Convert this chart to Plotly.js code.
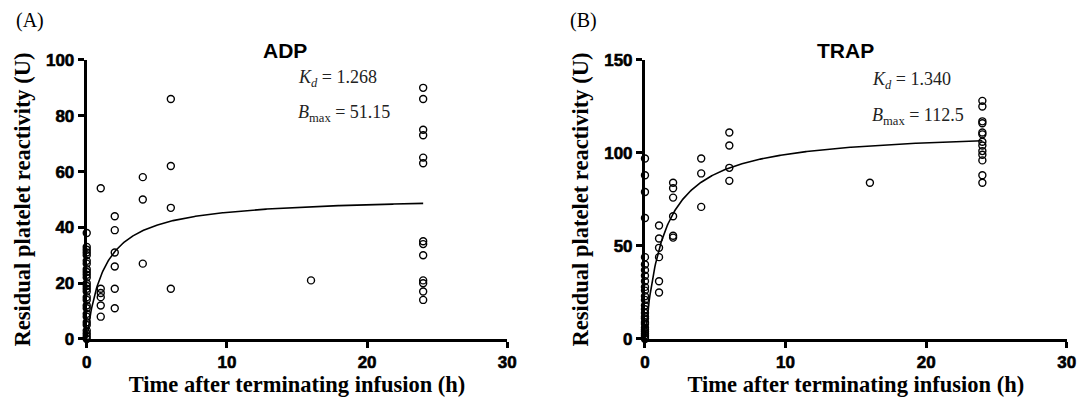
<!DOCTYPE html>
<html>
<head>
<meta charset="utf-8">
<script src="https://cdn.plot.ly/plotly-3.0.1.min.js"></script>
<style>
html,body{margin:0;padding:0;background:#fff;}
#chart{width:1080px;height:405px;}
</style>
</head>
<body>
<div id="chart"></div>
<script>
// ---- Data ----
const adpX = [0,0,0,0,0,0,0,0,0,0,0,0,0,0,0,0,0,0,0,0,0,0,0,0,0,0,0,
  1,1,1,1,1,1, 2,2,2,2,2,2, 4,4,4, 6,6,6,6, 16,
  24,24,24,24,24,24,24,24,24,24,24,24,24];
const adpY = [38,33,32,31,30,28,27,25,24,23,22,20,19,18,17,15,14,12,11,9,8,6,5,3,2,1,0,
  54,18,16.5,15,12,8, 44,39,31,26,18,11, 58,50,27, 86,62,47,18, 21,
  90,86,75,73,65,63,35,34,30,21,20,17,14];
const trapX = [0,0,0,0,0,0,0,0,0,0,0,0,0,0,0,0,0,0,0,0,0,0,0,0,0,0,0,
  1,1,1,1,1,1, 2,2,2,2,2,2, 4,4,4, 6,6,6,6, 16,
  24,24,24,24,24,24,24,24,24,24,24,24,24];
const trapY = [97,88,79,65,44,40,37,34,31,28,26,23,21,18,16,14,12,11,9,8,6,5,4,3,2,1,0,
  61,54,49,44,31,25, 84,81,76,66,55.5,54.5, 97,89,71, 111,104,92,85, 84,
  128,125,117,116,111,110,106,104,101,99,96,88,84];
const adpKd = 1.268, adpBmax = 51.15;
const trapKd = 1.340, trapBmax = 112.5;
const xTickVals = [0,10,20,30];
const adpYTicks = [0,20,40,60,80,100];
const trapYTicks = [0,50,100,150];

// fitted one-site binding curve from the printed parameters
function fitCurve(kd, bmax) {
  const xs = [], ys = [];
  for (let i = 0; i <= 480; i++) { const x = i * 0.05; xs.push(x); ys.push(bmax * x / (kd + x)); }
  return {xs, ys};
}
const cA = fitCurve(adpKd, adpBmax), cB = fitCurve(trapKd, trapBmax);

const mk = {symbol:'circle-open', size:7, color:'#000', line:{width:1.4, color:'#000'}};
const traces = [
  {x:adpX, y:adpY, type:'scatter', mode:'markers', marker:mk, xaxis:'x', yaxis:'y', cliponaxis:false, showlegend:false},
  {x:cA.xs, y:cA.ys, type:'scatter', mode:'lines', line:{color:'#000', width:1.6}, xaxis:'x', yaxis:'y', showlegend:false},
  {x:trapX, y:trapY, type:'scatter', mode:'markers', marker:mk, xaxis:'x2', yaxis:'y2', cliponaxis:false, showlegend:false},
  {x:cB.xs, y:cB.ys, type:'scatter', mode:'lines', line:{color:'#000', width:1.6}, xaxis:'x2', yaxis:'y2', showlegend:false}
];

const tickFont = {family:'Liberation Sans, Arial, sans-serif', size:17, color:'#000', weight:700};
const titleFont = {family:'Liberation Serif, Times New Roman, serif', size:22.5, color:'#000', weight:'bold'};
function xax(domain, anchor) {
  return {domain, anchor, range:[0,30], tickvals:xTickVals, ticks:'outside', ticklen:6, tickwidth:3, tickcolor:'#000',
    showline:true, linewidth:3, linecolor:'#000', showgrid:false, zeroline:false, tickfont:tickFont,
    title:{text:'Time after terminating infusion (h)', font:titleFont, standoff:4}};
}
function yax(domain, anchor, range, tv) {
  return {domain, anchor, range, tickvals:tv, ticks:'outside', ticklen:6, tickwidth:3, tickcolor:'#000',
    showline:true, linewidth:3, linecolor:'#000', showgrid:false, zeroline:false, tickfont:tickFont,
    title:{text:'Residual platelet reactivity (U)', font:titleFont, standoff:10}};
}
const serif = {family:'Liberation Serif, Times New Roman, serif', size:18, color:'#222'};
const layout = {
  width:1080, height:405, autosize:false,
  margin:{l:0, r:0, t:0, b:0},
  paper_bgcolor:'#fff', plot_bgcolor:'#fff',
  xaxis: xax([0.0803,0.4697],'y'),
  yaxis: yax([0.163,0.852],'x',[0,100],adpYTicks),
  xaxis2: xax([0.5972,0.9877],'y2'),
  yaxis2: yax([0.163,0.852],'x2',[0,150],trapYTicks),
  annotations:[
    {text:'(A)', x:14, y:20, showarrow:false, xanchor:'left', yanchor:'middle', font:{family:'Liberation Serif, serif', size:20, color:'#000'}},
    {text:'(B)', x:568, y:20, showarrow:false, xanchor:'left', yanchor:'middle', font:{family:'Liberation Serif, serif', size:20, color:'#000'}},
    {text:'ADP', x:285, y:50, showarrow:false, xanchor:'center', yanchor:'middle', font:{family:'Liberation Sans, Arial, sans-serif', size:21, color:'#000', weight:'bold'}},
    {text:'TRAP', x:845, y:50, showarrow:false, xanchor:'center', yanchor:'middle', font:{family:'Liberation Sans, Arial, sans-serif', size:21, color:'#000', weight:'bold'}},
    {text:'<i>K<sub>d</sub></i> = ' + adpKd.toFixed(3), x:296, y:78, showarrow:false, xanchor:'left', yanchor:'middle', font:serif},
    {text:'<i>B</i><sub>max</sub> = ' + adpBmax.toFixed(2), x:296, y:114, showarrow:false, xanchor:'left', yanchor:'middle', font:serif},
    {text:'<i>K<sub>d</sub></i> = ' + trapKd.toFixed(3), x:870, y:80, showarrow:false, xanchor:'left', yanchor:'middle', font:serif},
    {text:'<i>B</i><sub>max</sub> = ' + trapBmax.toFixed(1), x:870, y:116, showarrow:false, xanchor:'left', yanchor:'middle', font:serif}
  ]
};
// convert pixel positions of annotations to paper fractions
layout.annotations.forEach(a => { a.xref='paper'; a.yref='paper'; a.x = a.x/1080; a.y = 1 - a.y/405; });
Plotly.newPlot('chart', traces, layout, {staticPlot:true, displayModeBar:false}).then(gd => {
  gd.querySelectorAll('.xtick text, .ytick text, .x2tick text, .y2tick text').forEach(t => {
    t.style.fontWeight = 'bold';
    t.setAttribute('stroke', '#000');
    t.setAttribute('stroke-width', '0.6');
  });
});
</script>
</body>
</html>
